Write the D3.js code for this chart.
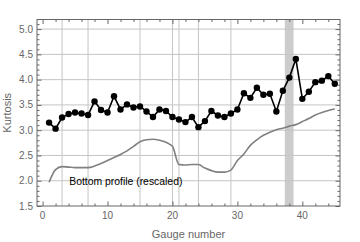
<!DOCTYPE html>
<html>
<head>
<meta charset="utf-8">
<script src="https://cdn.jsdelivr.net/npm/d3@7"></script>
<style>
  html, body { margin: 0; padding: 0; background: #fff; }
  svg { display: block; font-family: 'Liberation Sans', Arial, sans-serif; }
</style>
</head>
<body>
<svg id="chart"></svg>
<script>
const gauges = d3.range(1, 46);

const kurtosis = [
  3.15, 3.03, 3.25, 3.32, 3.35, 3.33, 3.30, 3.57, 3.40, 3.35,
  3.67, 3.41, 3.51, 3.45, 3.47, 3.37, 3.26, 3.41, 3.38, 3.26,
  3.21, 3.16, 3.26, 3.06, 3.18, 3.38, 3.29, 3.26, 3.33, 3.41,
  3.73, 3.64, 3.84, 3.70, 3.72, 3.37, 3.78, 4.04, 4.41, 3.62,
  3.76, 3.95, 3.98, 4.07, 3.92,
];

const bottomProfile = [
  1.97, 2.22, 2.28, 2.27, 2.26, 2.26, 2.26, 2.29, 2.34, 2.40,
  2.46, 2.52, 2.59, 2.68, 2.77, 2.81, 2.82, 2.80, 2.76, 2.68,
  2.32, 2.31, 2.32, 2.32, 2.25, 2.20, 2.17, 2.17, 2.21, 2.40,
  2.53, 2.70, 2.81, 2.90, 2.96, 3.01, 3.04, 3.08, 3.11, 3.17,
  3.23, 3.30, 3.35, 3.39, 3.42,
];

const xTickLabels = [0, 10, 20, 30, 40];
const yTickLabels = [1.5, 2.0, 2.5, 3.0, 3.5, 4.0, 4.5, 5.0];
const xGridLines = [3, 7, 15, 20, 21, 24, 29];
const yGridLines = [2.0, 2.5, 3.0, 3.5, 4.0, 4.5, 5.0];
const highlightBand = [37.3, 38.65];

const width = 360;
const height = 242;
const margin = { top: 19.5, right: 20, bottom: 36, left: 37 };
const INNER_WIDTH = width - margin.left - margin.right;
const INNER_HEIGHT = height - margin.top - margin.bottom;

const svg = d3.select('#chart').attr('width', width).attr('height', height);

const x = d3.scaleLinear().domain([-0.86, 45.8]).range([0, INNER_WIDTH]);
const y = d3.scaleLinear().domain([1.5, 5.19]).range([INNER_HEIGHT, 0]);

const g = svg
  .append('g')
  .attr('transform', `translate(${margin.left},${margin.top})`);

// shaded gauge band
g.append('rect')
  .attr('x', x(highlightBand[0]))
  .attr('y', 0)
  .attr('width', x(highlightBand[1]) - x(highlightBand[0]))
  .attr('height', INNER_HEIGHT)
  .attr('fill', '#cccccc');

// grid
g.selectAll('.vgrid')
  .data(xGridLines)
  .enter()
  .append('line')
  .attr('x1', d => x(d))
  .attr('x2', d => x(d))
  .attr('y1', 0)
  .attr('y2', INNER_HEIGHT)
  .attr('stroke', '#c4c4c4')
  .attr('stroke-width', 1);

g.selectAll('.hgrid')
  .data(yGridLines)
  .enter()
  .append('line')
  .attr('x1', 0)
  .attr('x2', INNER_WIDTH)
  .attr('y1', d => y(d))
  .attr('y2', d => y(d))
  .attr('stroke', '#c4c4c4')
  .attr('stroke-width', 1);

// bottom profile
const profileData = gauges.map((gauge, i) => ({ gauge, value: bottomProfile[i] }));
g.append('path')
  .datum(profileData)
  .attr('fill', 'none')
  .attr('stroke', '#808080')
  .attr('stroke-width', 1.6)
  .attr('d', d3.line().x(d => x(d.gauge)).y(d => y(d.value)).curve(d3.curveMonotoneX));

// kurtosis
const kurtData = gauges.map((gauge, i) => ({ gauge, value: kurtosis[i] }));
g.append('path')
  .datum(kurtData)
  .attr('fill', 'none')
  .attr('stroke', '#000')
  .attr('stroke-width', 1.6)
  .attr('d', d3.line().x(d => x(d.gauge)).y(d => y(d.value)));

g.selectAll('.dot')
  .data(kurtData)
  .enter()
  .append('circle')
  .attr('cx', d => x(d.gauge))
  .attr('cy', d => y(d.value))
  .attr('r', 3.2)
  .attr('fill', '#000');

g.append('text')
  .attr('x', x(4.1))
  .attr('y', y(1.98))
  .attr('dy', '0.35em')
  .attr('font-size', 10.4)
  .attr('fill', '#000')
  .text('Bottom profile (rescaled)');

// frame with inward ticks
const frameColor = '#666';
const xMinor = d3.range(0, 46, 2).filter(v => v % 10 !== 0);
const yMinor = d3.range(15, 52).map(v => v / 10).filter(v => Math.round(v * 10) % 5 !== 0);

const tickSides = [
  { axis: d3.axisBottom(x), t: `translate(0,${INNER_HEIGHT})`, type: 'x' },
  { axis: d3.axisTop(x), t: 'translate(0,0)', type: 'x' },
  { axis: d3.axisLeft(y), t: 'translate(0,0)', type: 'y' },
  { axis: d3.axisRight(y), t: `translate(${INNER_WIDTH},0)`, type: 'y' },
];

tickSides.forEach(({ axis, t, type }) => {
  const major = type === 'x' ? xTickLabels : yTickLabels;
  const minor = type === 'x' ? xMinor : yMinor;
  g.append('g')
    .attr('transform', t)
    .call(axis.tickValues(minor).tickSize(-2.5).tickFormat(''))
    .call(s => s.select('.domain').remove())
    .selectAll('line')
    .attr('stroke', frameColor);
  g.append('g')
    .attr('transform', t)
    .call(axis.tickValues(major).tickSize(-4.5).tickFormat(''))
    .call(s => s.select('.domain').remove())
    .selectAll('line')
    .attr('stroke', frameColor);
});

g.append('rect')
  .attr('x', 0)
  .attr('y', 0)
  .attr('width', INNER_WIDTH)
  .attr('height', INNER_HEIGHT)
  .attr('fill', 'none')
  .attr('stroke', frameColor)
  .attr('stroke-width', 1);

// tick labels
const labelColor = '#666';
g.selectAll('.xlabel')
  .data(xTickLabels)
  .enter()
  .append('text')
  .attr('x', d => x(d))
  .attr('y', INNER_HEIGHT + 13)
  .attr('text-anchor', 'middle')
  .attr('font-size', 10)
  .attr('fill', labelColor)
  .text(d => d);

g.selectAll('.ylabel')
  .data(yTickLabels)
  .enter()
  .append('text')
  .attr('x', -4)
  .attr('y', d => y(d))
  .attr('dy', '0.35em')
  .attr('text-anchor', 'end')
  .attr('font-size', 10)
  .attr('fill', labelColor)
  .text(d => d3.format('.1f')(d));

// axis titles
svg
  .append('text')
  .attr('text-anchor', 'middle')
  .attr('x', margin.left + INNER_WIDTH / 2)
  .attr('y', 238)
  .attr('font-size', 11)
  .attr('fill', labelColor)
  .text('Gauge number');

svg
  .append('text')
  .attr('text-anchor', 'middle')
  .attr('transform', `translate(11, ${margin.top + INNER_HEIGHT / 2}) rotate(-90)`)
  .attr('font-size', 11)
  .attr('fill', labelColor)
  .text('Kurtosis');
</script>
</body>
</html>
